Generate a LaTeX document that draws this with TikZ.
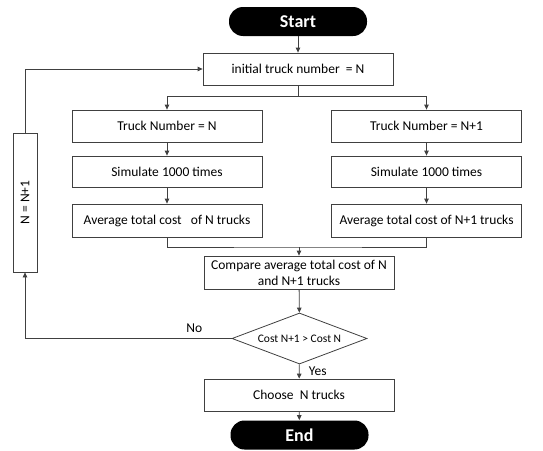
\documentclass[tikz,border=0pt]{standalone}
\usepackage{fontspec}
\setmainfont{Carlito}
\usetikzlibrary{arrows.meta, shapes.geometric, positioning}
\definecolor{linegray}{HTML}{404040}

\begin{document}
\begin{tikzpicture}[x=1pt, y=-1pt, line width=0.8pt,
  box/.style={draw=linegray, rectangle, minimum width=190pt, minimum height=32pt, inner sep=0pt, align=center, font=\fontsize{13.5}{16}\selectfont},
  term/.style={fill=black, rounded corners=14pt, minimum width=138pt, minimum height=29pt, text=white, font=\fontsize{18}{20}\selectfont\bfseries},
  dec/.style={draw=linegray, diamond, aspect=2.65, minimum width=135pt, minimum height=51pt, inner sep=0pt, font=\fontsize{11.5}{13}\selectfont},
  link/.style={draw=linegray, -{Triangle[length=5pt,width=4.5pt]}},
  lbl/.style={font=\fontsize{13.5}{16}\selectfont}]
  \useasboundingbox (0,0) rectangle (543,450);

  \node[term] (start) at (298,21.5) {Start};
  \node[box] (init) at (298,69) {initial truck number\ \ = N};

  \node[box] (truckA) at (167,126) {Truck Number = N};
  \node[box] (truckB) at (426.5,126) {Truck Number = N+1};
  \node[box, minimum height=31pt] (simA) at (167,171.5) {Simulate 1000 times};
  \node[box, minimum height=31pt] (simB) at (426.5,171.5) {Simulate 1000 times};
  \node[box, minimum height=33pt] (avgA) at (167,220.5) {Average total cost\ \ \ of N trucks};
  \node[box, minimum height=33pt] (avgB) at (426.5,220.5) {Average total cost of N+1 trucks};

  \node[box, minimum height=33pt] (cmp) at (299,272.5) {Compare average total cost of N\\and N+1 trucks};
  \node[dec] (cond) at (299.5,338.5) {Cost N+1 > Cost N};
  \node[box] (choose) at (299,395) {Choose\ \ N trucks};
  \node[term] (stop) at (299.5,435) {End};

  \node[box, minimum width=24pt, minimum height=139pt] (incr) at (25,202.5) {\rotatebox{90}{N = N+1}};

  \coordinate (split) at (298,96);
  \coordinate (merge) at (299,247);

  \draw[link] (start) -- (init);
  \draw[linegray] (init) -- (split);
  \draw[link] (split) -| (truckA);
  \draw[link] (split) -| (truckB);
  \draw[link] (truckA) -- (simA);
  \draw[link] (simA) -- (avgA);
  \draw[link] (truckB) -- (simB);
  \draw[link] (simB) -- (avgB);
  \draw[linegray] (avgA) |- (merge) -| (avgB);
  \draw[link] (merge) -- (cmp);
  \draw[link] (cmp) -- (cond);
  \draw[link] (cond) -- node[lbl, right, xshift=6pt] {Yes} (choose);
  \draw[link] (choose) -- (stop);
  \draw[link] (cond.west) -| node[lbl, pos=0.09, above, yshift=2pt] {No} (incr.south);
  \draw[link] (incr.north) |- (init.west);
\end{tikzpicture}
\end{document}
